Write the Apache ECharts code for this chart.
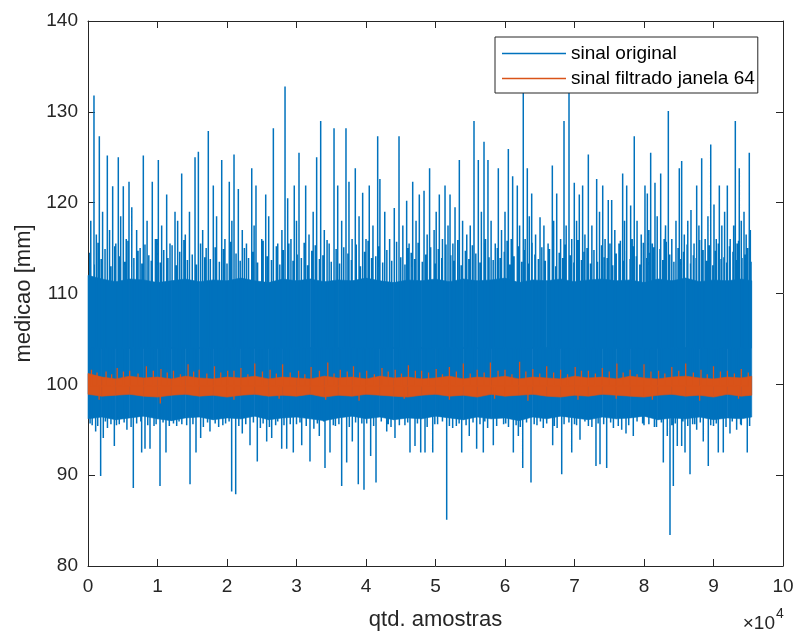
<!DOCTYPE html>
<html><head><meta charset="utf-8">
<script src="https://cdn.jsdelivr.net/npm/echarts@6/dist/echarts.min.js"></script>
<style>html,body{margin:0;padding:0;background:#fff}#c{width:797px;height:636px}</style>
</head><body><div id="c"></div>
<script>
// ---------- data ----------
const seriesNames = ['sinal original', 'sinal filtrado janela 64'];
const xLabelText = 'qtd. amostras';
const yLabelText = 'medicao [mm]';

// dense core of the original signal (envelope every 2000 samples)
const coreX = [0,2000,4000,6000,8000,10000,12000,14000,16000,18000,20000,22000,24000,26000,28000,30000,32000,34000,36000,38000,40000,42000,44000,46000,48000,50000,52000,54000,56000,58000,60000,62000,64000,66000,68000,70000,72000,74000,76000,78000,80000,82000,84000,86000,88000,90000,92000,94000,95500];
const coreHi = [112.0,111.6,111.3,111.6,111.5,111.2,111.4,111.6,111.3,111.5,111.4,111.7,111.4,111.2,111.6,111.4,111.6,111.3,111.5,111.4,111.7,111.4,111.2,111.5,111.4,111.6,111.3,111.6,111.4,111.5,111.7,111.2,111.5,111.4,111.6,111.3,111.5,111.6,111.4,111.5,111.2,111.6,111.4,111.7,111.3,111.5,111.4,111.6,111.4];
const coreLo = [96.2,96.4,96.1,96.3,96.5,96.2,96.0,96.3,96.4,96.1,96.3,96.2,96.5,96.1,96.3,96.4,96.2,96.0,96.3,96.5,96.2,96.4,96.1,96.3,96.2,96.5,96.3,96.1,96.4,96.2,96.3,96.0,96.4,96.2,96.5,96.3,96.1,96.4,96.2,96.3,96.5,96.1,96.3,96.2,96.4,96.1,96.3,96.2,96.4];

// large upward spikes of the original signal
const upX = [860,1630,2780,3550,4360,5080,5900,7960,9250,10120,11320,12520,13480,15400,15880,17310,18030,19240,20330,21010,21630,23560,24170,25570,26670,28350,28730,29680,30360,31320,32900,33480,35400,35930,37120,37550,38460,39520,40470,41680,42000,44070,44750,45850,46720,47670,48350,49150,50550,51370,52090,52810,53430,55540,56160,56980,57550,59040,60480,61100,61770,62630,63210,63840,65040,66810,67440,68490,69210,69970,70690,71170,71990,73190,74060,74860,75350,76930,77510,78080,78600,80140,80480,80960,81580,82400,83500,85080,85420,86760,87580,88300,89600,90070,90840,91990,93140,93710,94390,95150];
const upY = [131.8,127.3,125.2,121.8,125.0,121.8,122.3,125.2,122.3,124.7,120.9,119.0,123.2,125.0,125.6,127.9,121.9,124.7,122.3,125.3,121.5,123.8,121.9,120.9,128.2,132.8,120.5,121.9,125.5,121.9,125.0,129.0,128.2,121.9,128.2,122.3,123.8,121.1,121.9,127.3,122.6,119.4,127.3,120.2,122.3,120.9,121.3,123.8,120.9,121.9,120.9,119.5,124.7,129.0,124.7,126.7,124.7,123.8,125.9,122.9,121.9,133.0,123.8,121.0,118.4,124.1,121.0,129.0,133.0,122.2,120.9,121.9,125.3,122.6,121.9,120.3,120.3,123.2,121.9,119.7,127.3,121.9,121.0,125.5,122.2,123.2,130.1,123.8,124.6,119.2,121.9,124.9,126.4,119.8,121.9,121.9,129.0,123.8,119.0,125.5];

// medium upward spikes
const midUpX = [400,1200,2100,3100,4000,4700,5500,6300,7000,7500,8500,9700,10600,11800,12900,14000,14600,16500,17000,18500,19700,20700,22200,22800,23900,25000,26000,27300,27900,29200,30000,31800,32400,34000,34700,36500,38000,39000,40000,41000,42700,43400,45300,46200,47200,48800,49800,50100,51000,51800,52500,53900,54500,55000,56600,57200,58000,58600,59500,60000,60900,62100,62900,63500,64400,65600,66200,67000,68000,68800,69600,70300,71500,72500,73600,74400,75800,76400,77200,78300,79000,79600,80700,81200,81900,82900,83100,84000,84600,85800,86300,87200,87900,88800,89200,90400,91200,91600,92400,92900,93400,94000,94700,95300];
const midUpY = [118,116.5,119,117,115.5,118.5,116,119.5,117,115,118,116,117.5,115.5,118,116.5,119,117,115,118.5,116,118,117,115.5,117.5,116,118.5,115.5,117,116,118,116.5,119,117,115.5,118,116,118.5,116,117.5,119,116,117.5,115.5,118,116.5,117,119,116,117.5,115.5,118,116.5,117.5,119,116,118,115.5,117,119,116,117.5,116,118.5,116.5,117.5,115.5,118,116,117.5,116,118,116.5,117.5,119,116,117,115.5,118,116,118,116.5,117,115.5,118.5,116,117.5,116,118,116.5,118,115.5,117.5,116,118.5,116,117.5,119,116,117.5,115.5,118,116.5,117];

// short upward spikes (fuzzy top edge of the dense core)
const shortUpX = [250,900,1450,1900,2450,3300,3850,4550,5300,5750,6600,7200,7750,8200,8750,9100,9900,10400,10900,11500,12100,12700,13200,13800,14300,15000,15600,16200,16800,17600,18300,18900,19500,20000,20500,21300,21900,22500,23100,23700,24400,25200,25800,26400,27100,27600,28100,28900,29500,30100,30700,31100,31600,32200,32700,33300,33800,34400,35000,35700,36200,36800,37400,37900,38600,39200,39800,40300,40800,41400,41900,42400,43000,43700,44400,45000,45600,46000,46500,47000,47500,48100,48600,49300,49900,50400,50900,51500,52200,52700,53200,53700,54300,54800,55300,55800,56400,57000,57700,58300,58900,59300,59900,60300,60700,61300,61900,62400,62800,63400,63900,64300,64800,65300,65800,66400,66900,67300,67800,68300,68700,69400,69900,70500,71000,71400,71800,72300,72800,73300,73900,74300,74700,75100,75500,76000,76600,77000,77500,78000,78500,78900,79400,79900,80400,80900,81400,81900,82300,82700,83200,83700,84300,84900,85300,85700,86200,86700,87100,87500,88000,88500,89000,89400,89900,90300,90700,91100,91500,91900,92300,92800,93200,93600,94100,94500,94900,95400];
const shortUpY = [114.5,113.2,115.6,113.8,114.9,113.0,115.2,114.1,113.5,115.8,113.9,114.7,113.3,115.4,114.2,113.6,116.0,113.4,114.8,113.9,115.3,113.1,114.6,115.9,113.7,114.3,113.2,115.5,114.0,113.8,115.1,113.5,114.9,113.3,115.7,114.4,113.6,115.0,113.9,114.6,113.4,115.8,114.1,113.7,115.2,113.2,114.8,115.5,113.6,114.3,113.9,115.6,113.1,114.7,115.3,113.8,114.2,115.9,113.5,114.9,113.3,115.1,114.4,113.7,115.4,113.0,114.6,115.8,113.9,114.1,115.2,113.4,114.8,113.6,115.7,114.0,113.2,115.0,114.5,113.8,115.6,113.5,114.3,115.1,113.3,114.9,113.9,115.4,114.2,113.6,115.9,113.1,114.7,113.8,115.3,114.4,113.4,115.5,114.0,113.7,115.0,113.9,114.6,115.8,113.2,114.1,115.2,113.5,114.8,113.3,115.6,114.3,113.8,115.1,113.6,114.9,115.7,113.0,114.5,113.9,115.4,114.2,113.4,115.9,113.7,114.6,115.0,113.3,114.8,113.5,115.3,114.0,113.9,115.5,113.1,114.4,115.8,113.6,114.7,113.8,115.2,114.1,113.2,115.6,113.9,114.5,115.1,113.4,114.9,113.7,115.7,114.3,113.5,115.0,113.8,114.6,115.4,113.3,114.2,113.9,115.9,114.8,113.6,115.3,113.1,114.7,115.5,113.8,114.0,113.4,115.2,114.6,113.7,115.8,113.9,114.3,115.0,113.5,114.9,113.2];

// downward spikes of the original signal
const dnX = [1100,1820,2200,3790,6520,7720,8200,8920,10360,11220,12760,14680,15540,16210,17550,20670,21250,22200,23310,24360,25710,26430,27870,28590,29540,30750,31940,33280,34100,34820,36500,37220,38030,38890,39710,40670,41440,42980,44170,46330,47050,47870,48490,49600,51610,52470,53770,54860,55920,56880,58320,61200,61920,62550,63740,65510,66860,68160,69600,70790,73090,73670,74630,76790,77410,78460,82780,83350,83740,84220,84790,85420,85900,86620,87580,88530,89250,90690,91410,92370,93330,94860];
const dnY = [94.8,89.9,94.1,93.2,88.6,92.5,92.9,92.9,88.8,92.5,95.4,89.0,92.5,94.1,94.8,88.2,87.9,94.6,93.3,91.5,93.7,94.1,92.9,92.9,92.5,93.3,91.5,94.3,90.8,92.5,88.8,91.4,93.7,89.0,88.4,92.1,89.2,94.8,94.1,92.5,93.2,92.5,92.5,92.5,85.1,95.2,92.5,94.3,92.9,92.5,93.3,92.5,94.3,90.8,89.2,95.2,93.3,90.1,92.5,93.9,91.0,91.2,90.8,95.0,94.6,94.3,91.4,94.3,83.4,88.8,93.2,93.2,92.5,90.1,95.0,93.7,91.0,92.5,92.5,94.6,95.0,92.5];

// small downward dips (fuzzy bottom edge)
const midDnX = [600,2800,4500,5600,9500,13500,18800,19800,24800,27000,30000,32500,35600,40100,43600,45600,50300,53000,57500,59800,60500,64600,67500,70000,72000,75600,80000,81500,87000,90000,94000];
const midDnY = [95.5,95.2,95.6,95.0,95.4,95.6,95.3,95.7,95.2,95.5,95.6,95.1,95.4,95.7,95.3,95.5,95.6,95.4,95.2,95.6,95.3,95.5,95.2,95.6,95.4,95.2,95.5,95.3,95.6,95.4,95.5];
const shortDnX = [300,1400,2500,3300,4100,5200,6200,7000,7600,8600,9800,10800,11700,12300,13100,14200,15100,16600,17200,18300,19400,20300,21700,22700,23800,25200,26100,27300,28200,29100,30500,31400,33000,33900,35300,36100,37600,38500,39400,41100,42200,43200,44800,46000,47400,48800,49900,51000,52000,53400,54400,55400,56400,57100,58800,60100,61600,62200,63100,64200,65100,66000,67100,68500,69200,70300,71500,72500,73400,74200,75200,76300,77800,79000,79800,80700,81800,82500,84000,84500,85600,86300,87300,88100,89600,90400,91800,92700,93900,95200];
const shortDnY = [95.7,95.4,95.9,95.6,95.5,95.8,95.3,95.7,95.9,95.5,95.6,95.8,95.4,95.7,95.9,95.5,95.6,95.3,95.8,95.7,95.5,95.9,95.4,95.6,95.8,95.7,95.3,95.9,95.5,95.6,95.8,95.4,95.7,95.9,95.5,95.6,95.3,95.8,95.7,95.4,95.9,95.6,95.5,95.8,95.7,95.3,95.6,95.9,95.4,95.7,95.5,95.8,95.6,95.9,95.4,95.7,95.5,95.3,95.8,95.6,95.9,95.7,95.4,95.6,95.8,95.5,95.9,95.3,95.7,95.6,95.8,95.4,95.5,95.9,95.7,95.6,95.3,95.8,95.5,95.7,95.9,95.4,95.6,95.8,95.5,95.7,95.3,95.9,95.6,95.4];

// filtered signal band (envelope every 2000 samples)
const filtX = coreX;
const filtHi = [101.2,100.8,100.6,100.9,100.7,100.8,100.6,100.9,100.7,100.6,100.8,100.7,100.9,100.6,100.8,100.7,100.6,100.9,100.7,100.8,100.6,100.9,100.7,100.8,100.6,100.7,100.9,100.6,100.8,100.7,100.9,100.6,100.8,100.7,100.6,100.9,100.7,100.8,100.6,100.9,100.7,100.6,100.8,100.9,100.7,100.6,100.8,100.7,100.9];
const filtLo = [98.9,98.7,98.8,98.9,98.7,98.6,98.8,98.9,98.7,98.8,98.6,98.8,98.9,98.7,98.8,98.7,98.9,98.6,98.8,98.7,98.9,98.8,98.7,98.6,98.8,98.9,98.7,98.8,98.6,98.9,98.7,98.8,98.9,98.7,98.6,98.8,98.7,98.9,98.8,98.7,98.6,98.8,98.9,98.7,98.8,98.6,98.9,98.7,98.8];
const fUpX = [500,2600,4200,6000,8400,10500,12300,14400,16000,18200,20100,22000,24000,26200,28000,30300,32100,34500,36300,38200,40100,42300,44200,46100,48000,50100,52000,54000,56000,57900,60000,62100,64000,66000,68000,70100,72000,74000,76100,78000,80000,82100,84000,86000,88200,90000,92000,94000];
const fUpY = [101.6,101.4,101.8,101.5,102.0,101.7,101.5,102.2,101.6,102.0,101.5,101.8,102.3,101.6,102.2,101.5,101.9,102.4,101.6,102.0,101.5,101.8,101.6,102.1,101.5,101.7,101.9,102.3,101.6,102.4,101.6,102.5,101.7,102.0,101.6,101.9,101.5,101.8,102.3,101.6,102.2,101.5,101.9,102.3,101.6,102.0,101.5,101.7];
const fMidX = [1300,3400,5100,7200,9400,11400,13300,15200,17100,19100,21000,23000,25100,27100,29100,31200,33300,35400,37300,39100,41200,43200,45100,47100,49000,51000,53000,55000,57000,59000,61000,63000,65000,67000,69000,71000,73000,75000,77000,79000,81000,83000,85000,87100,89100,91000,93000,95000];
const fMidY = [101.3,101.1,101.4,101.2,101.5,101.3,101.1,101.4,101.2,101.3,101.5,101.1,101.4,101.2,101.3,101.1,101.5,101.2,101.4,101.3,101.1,101.4,101.2,101.5,101.3,101.1,101.4,101.2,101.3,101.5,101.1,101.4,101.2,101.3,101.1,101.5,101.2,101.4,101.3,101.1,101.4,101.2,101.5,101.3,101.1,101.4,101.2,101.3];
const fDnX = [1600,10400,21000,27500,34200,39000,45500,52000,58500,63300,70500,76000,81200,88000,93600];
const fDnY = [98.3,97.9,98.3,98.4,98.3,98.2,98.4,98.3,98.4,98.2,98.3,98.4,98.3,98.2,98.4];

// axis ticks
const xTickStep = 10000, xMin = 0, xMax = 100000, xScaleExp = 4;
const yTickStep = 10, yMin = 80, yMax = 140;

// ---------- build ----------
const BLUE = '#0072BD', ORANGE = '#D95319', AX = '#262626';
const FONT = '"Liberation Sans", Arial, Helvetica, sans-serif';

function spikes(lists, base) {
  const out = [];
  lists.forEach(([xs, ys]) => {
    const n = Math.min(xs.length, ys.length);
    for (let i = 0; i < n; i++) { out.push([xs[i], base], [xs[i], ys[i]], [xs[i], base]); }
  });
  return out;
}
// band segments: [x0, lo0, hi0, x1, lo1, hi1]
function segments(xs, hi, lo) {
  const n = Math.min(xs.length, hi.length, lo.length); const o = [];
  for (let i = 0; i + 1 < n; i++) o.push([xs[i], lo[i], hi[i], xs[i + 1], lo[i + 1], hi[i + 1]]);
  return o;
}
function bandSeries(name, data, color, z) {
  return {
    type: 'custom', name, silent: true, data, z,
    encode: { x: [0, 3], y: [1, 2, 4, 5] },
    renderItem: (params, api) => {
      const a = api.coord([api.value(0), api.value(1)]);
      const b = api.coord([api.value(0), api.value(2)]);
      const c = api.coord([api.value(3), api.value(5)]);
      const d = api.coord([api.value(3), api.value(4)]);
      return { type: 'polygon', shape: { points: [a, b, c, d] }, style: { fill: color, stroke: color, lineWidth: 0.6 } };
    }
  };
}

const chart = echarts.init(document.getElementById('c'), null, { renderer: 'canvas' });
chart.setOption({
  animation: false,
  grid: { left: 88, right: 14, top: 21, bottom: 69, containLabel: false },
  textStyle: { fontFamily: FONT },
  legend: {
    data: seriesNames, orient: 'vertical', left: 495, top: 37, z: 20,
    icon: 'rect', itemWidth: 64, itemHeight: 1.5, itemGap: 6, itemTextGap: 3,
    padding: [7, 3, 5, 7], backgroundColor: '#fff', borderColor: AX, borderWidth: 1, borderRadius: 0,
    textStyle: { fontSize: 19, color: '#000', fontFamily: FONT, lineHeight: 19 }, selectedMode: false
  },
  xAxis: [
    { type: 'value', min: xMin, max: xMax, interval: xTickStep, position: 'bottom',
      axisLine: { show: true, onZero: false, lineStyle: { color: AX, width: 1 } },
      axisTick: { show: true, inside: true, length: 7, lineStyle: { color: AX } },
      axisLabel: { formatter: v => String(v / Math.pow(10, xScaleExp)), fontSize: 19, color: AX, margin: 11, fontFamily: FONT },
      splitLine: { show: false },
      name: xLabelText, nameLocation: 'middle', nameGap: 43, nameTextStyle: { fontSize: 22, color: AX, fontFamily: FONT } },
    { type: 'value', min: xMin, max: xMax, interval: xTickStep, position: 'top',
      axisLine: { show: true, onZero: false, lineStyle: { color: AX, width: 1 } },
      axisTick: { show: true, inside: true, length: 7, lineStyle: { color: AX } },
      axisLabel: { show: false }, splitLine: { show: false } }
  ],
  yAxis: [
    { type: 'value', min: yMin, max: yMax, interval: yTickStep, position: 'left',
      axisLine: { show: true, onZero: false, lineStyle: { color: AX, width: 1 } },
      axisTick: { show: true, inside: true, length: 7, lineStyle: { color: AX } },
      axisLabel: { fontSize: 19, color: AX, margin: 10, fontFamily: FONT },
      splitLine: { show: false },
      name: yLabelText, nameLocation: 'middle', nameGap: 52, nameRotate: 90, nameTextStyle: { fontSize: 22, color: AX, fontFamily: FONT } },
    { type: 'value', min: yMin, max: yMax, interval: yTickStep, position: 'right',
      axisLine: { show: true, onZero: false, lineStyle: { color: AX, width: 1 } },
      axisTick: { show: true, inside: true, length: 7, lineStyle: { color: AX } },
      axisLabel: { show: false }, splitLine: { show: false } }
  ],
  graphic: [
    { type: 'text', right: 22, top: 614, style: { text: '×10', fontSize: 19, fill: AX, fontFamily: FONT } },
    { type: 'text', left: 776, top: 607, style: { text: String(xScaleExp), fontSize: 14, fill: AX, fontFamily: FONT } }
  ],
  series: [
    bandSeries('coreBand', segments(coreX, coreHi, coreLo), BLUE, 2),
    { type: 'line', name: seriesNames[0], symbol: 'none', silent: true, z: 3,
      data: spikes([[upX, upY], [midUpX, midUpY], [shortUpX, shortUpY], [dnX, dnY], [midDnX, midDnY], [shortDnX, shortDnY]], 104),
      itemStyle: { color: BLUE }, lineStyle: { color: BLUE, width: 1.5 } },
    bandSeries('filtBand', segments(filtX, filtHi, filtLo), ORANGE, 4),
    { type: 'line', name: seriesNames[1], symbol: 'none', silent: true, z: 5,
      data: spikes([[fUpX, fUpY], [fMidX, fMidY], [fDnX, fDnY]], 99.8),
      itemStyle: { color: ORANGE }, lineStyle: { color: ORANGE, width: 1.3 } }
  ]
});
</script>
</body></html>
